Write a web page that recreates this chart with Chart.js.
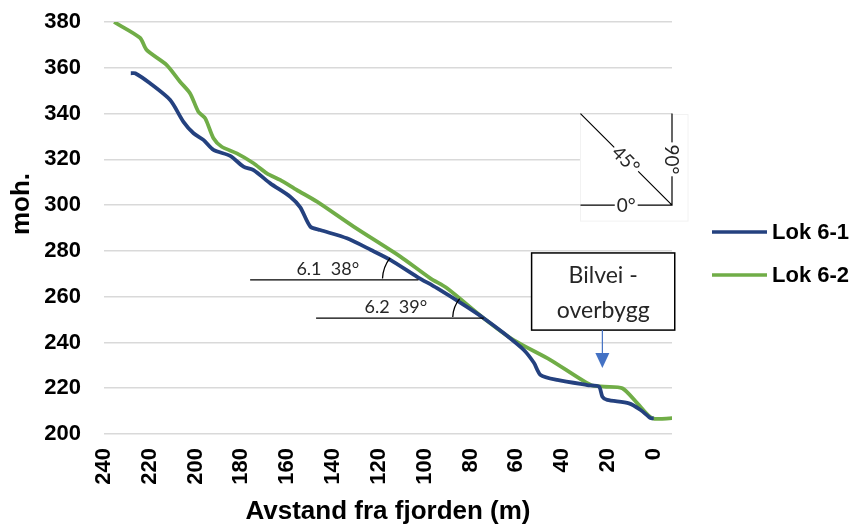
<!DOCTYPE html>
<html>
<head>
<meta charset="utf-8">
<script src="https://cdn.jsdelivr.net/npm/chart.js@4.4.1/dist/chart.umd.min.js"></script>
<style>
  html, body { margin: 0; padding: 0; background: #fff; }
</style>
</head>
<body>
<canvas id="profile" width="856" height="527"></canvas>
<script>
// Lok 6-1 (avstand fra fjorden, moh.)
const lok61X = [228.3, 226.4, 219.9, 211.1, 205.3, 200.9, 196.6, 192.2, 184.9, 179.1, 174.7, 167.4,
  158.7, 154.3, 149.9, 145.6, 133.9, 123.4, 114.8, 103.3, 94.6, 82.9, 74.2, 65.4, 56.7, 52.3, 49.4,
  42.1, 29.0, 23.9, 22.4, 20.3, 10.8, 5.7, 1.3, 0];
const lok61Y = [357.6, 357.6, 353.2, 345.9, 336.4, 331.4, 328.5, 324.1, 321.5, 316.8, 315.3, 309.5,
  303.7, 299.0, 290.6, 289.1, 285.5, 280.4, 276.0, 268.7, 263.7, 256.4, 250.6, 244.0, 236.7, 231.1, 225.8,
  223.6, 221.4, 220.7, 216.3, 214.9, 213.4, 210.5, 206.9, 206.9];

// Lok 6-2
const lok62X = [235.6, 224.3, 221.4, 212.6, 206.8, 202.4, 198.8, 195.8, 192.2, 188.6, 182.0, 174.7,
  168.9, 163.1, 155.8, 147.0, 131.0, 110.6, 97.5, 90.2, 74.2, 61.1, 45.0, 27.5, 21.7, 13.7, 7.1, 0.6, -8];
const lok62Y = [380.0, 373.1, 367.8, 361.2, 353.9, 348.8, 340.8, 337.9, 329.2, 325.5, 322.6, 318.3,
  313.9, 311.0, 306.6, 301.5, 290.6, 277.5, 268.0, 263.7, 250.6, 241.0, 232.3, 221.4, 220.7, 220.0, 213.4, 206.9, 206.9];

const seriesNames = ['Lok 6-1', 'Lok 6-2'];
const seriesColors = ['#24417f', '#70ad47'];

// helningslinjer
const slopeText = ['6.1  38°', '6.2  39°'];
const slopeY = [267.3, 250.6];
const slopeFrom = [176.2, 147.4];
const slopeTo = [102.7, 74.2];
const slopeDeg = [38, 39];

const toPoints = (xs, ys) => xs.map((x, i) => ({ x: x, y: ys[i] }));

const overlay = {
  id: 'overlay',
  afterDraw(chart) {
    const ctx = chart.ctx;
    const sx = chart.scales.x;
    const sy = chart.scales.y;
    const area = chart.chartArea;
    ctx.save();

    // slope reference lines with angle arcs
    const textX = [142.3, 112.6];
    const arcR = [36, 31];
    ctx.strokeStyle = '#000';
    ctx.fillStyle = '#262626';
    ctx.lineWidth = 1.3;
    ctx.font = '18px Lato';
    ctx.textAlign = 'center';
    ctx.textBaseline = 'alphabetic';
    slopeText.forEach((t, i) => {
      const y = sy.getPixelForValue(slopeY[i]);
      const x1 = sx.getPixelForValue(slopeFrom[i]);
      const x2 = sx.getPixelForValue(slopeTo[i]);
      ctx.beginPath();
      ctx.moveTo(x1, y);
      ctx.lineTo(x2, y);
      ctx.stroke();
      ctx.beginPath();
      ctx.arc(x2, y, arcR[i], Math.PI + 0.04, Math.PI + slopeDeg[i] * Math.PI / 180);
      ctx.stroke();
      ctx.fillText(t, sx.getPixelForValue(textX[i]), y - 5);
    });

    // angle key in the upper right
    const cx = sx.getPixelForValue(-8);
    const cy = sy.getPixelForValue(300);
    const len = cy - sy.getPixelForValue(340);
    ctx.fillStyle = '#fff';
    ctx.fillRect(cx - len, cy - len + 1, len + 16, len + 15);
    ctx.strokeStyle = '#f2f2f2';
    ctx.lineWidth = 1;
    ctx.strokeRect(cx - len, cy - len + 1, len + 16, len + 15);
    ctx.strokeStyle = '#000';
    ctx.lineWidth = 1.2;
    ctx.beginPath();
    ctx.moveTo(cx - len, cy - len);
    ctx.lineTo(cx, cy);
    ctx.moveTo(cx, cy - len);
    ctx.lineTo(cx, cy);
    ctx.lineTo(cx - len, cy);
    ctx.stroke();
    const keyLabel = (t, x, y, rot) => {
      ctx.save();
      ctx.translate(x, y);
      ctx.rotate(rot);
      ctx.font = '19px Lato';
      const w = ctx.measureText(t).width;
      ctx.fillStyle = '#fff';
      ctx.fillRect(-w / 2 - 2, -9, w + 4, 18);
      ctx.fillStyle = '#262626';
      ctx.textAlign = 'center';
      ctx.textBaseline = 'middle';
      ctx.fillText(t, 0, 1);
      ctx.restore();
    };
    keyLabel('0°', cx - len / 2, cy, 0);
    keyLabel('45°', cx - len / 2, cy - len / 2, Math.PI / 4);
    keyLabel('90°', cx, cy - len / 2, Math.PI / 2);

    // Bilvei - overbygg
    const bx1 = sx.getPixelForValue(53.3);
    const bx2 = sx.getPixelForValue(-9.2);
    const by1 = sy.getPixelForValue(279.1);
    const by2 = sy.getPixelForValue(245.4);
    ctx.fillStyle = '#fff';
    ctx.fillRect(bx1, by1, bx2 - bx1, by2 - by1);
    ctx.strokeStyle = '#000';
    ctx.lineWidth = 1.5;
    ctx.strokeRect(bx1, by1, bx2 - bx1, by2 - by1);
    ctx.fillStyle = '#262626';
    ctx.font = '23px Lato';
    ctx.textAlign = 'center';
    ctx.textBaseline = 'alphabetic';
    ctx.fillText('Bilvei -', (bx1 + bx2) / 2, by1 + 30);
    ctx.fillText('overbygg', (bx1 + bx2) / 2, by1 + 65);

    const ax = sx.getPixelForValue(22.4);
    const tip = sy.getPixelForValue(228.8);
    ctx.strokeStyle = '#4472c4';
    ctx.fillStyle = '#4472c4';
    ctx.lineWidth = 1.2;
    ctx.beginPath();
    ctx.moveTo(ax, by2);
    ctx.lineTo(ax, tip - 12);
    ctx.stroke();
    ctx.beginPath();
    ctx.moveTo(ax - 7, tip - 15);
    ctx.lineTo(ax + 7, tip - 15);
    ctx.lineTo(ax, tip);
    ctx.closePath();
    ctx.fill();

    // legend
    ctx.font = 'bold 22px "Liberation Sans"';
    ctx.textAlign = 'left';
    ctx.textBaseline = 'middle';
    seriesNames.forEach((n, i) => {
      const ly = area.top + 210 + i * 43;
      ctx.strokeStyle = seriesColors[i];
      ctx.lineWidth = 3.5;
      ctx.beginPath();
      ctx.moveTo(area.right + 40, ly);
      ctx.lineTo(area.right + 95, ly);
      ctx.stroke();
      ctx.fillStyle = '#000';
      ctx.fillText(n, area.right + 100, ly + 1);
    });

    // y axis title
    ctx.save();
    ctx.translate(22, 204);
    ctx.rotate(-Math.PI / 2);
    ctx.font = 'bold 26px "Liberation Sans"';
    ctx.textAlign = 'center';
    ctx.textBaseline = 'middle';
    ctx.fillStyle = '#000';
    ctx.fillText('moh.', 0, 0);
    ctx.restore();

    ctx.restore();
  }
};

new Chart(document.getElementById('profile'), {
  type: 'line',
  data: {
    datasets: [{
      label: seriesNames[0],
      data: toPoints(lok61X, lok61Y),
      borderColor: seriesColors[0],
      borderWidth: 3.8,
      pointRadius: 0,
      tension: 0.25
    }, {
      label: seriesNames[1],
      data: toPoints(lok62X, lok62Y),
      borderColor: seriesColors[1],
      borderWidth: 3.8,
      pointRadius: 0,
      tension: 0.25
    }]
  },
  options: {
    responsive: false,
    animation: false,
    layout: {
      padding: { left: 0, right: 184, top: 22, bottom: 0 }
    },
    plugins: {
      legend: { display: false },
      tooltip: { enabled: false }
    },
    scales: {
      x: {
        type: 'linear',
        reverse: true,
        min: -8,
        max: 240,
        grid: { display: false },
        border: { display: false },
        ticks: {
          stepSize: 20,
          includeBounds: false,
          minRotation: 90,
          maxRotation: 90,
          padding: 6,
          color: '#000',
          font: { family: 'Liberation Sans', size: 22, weight: 'bold' }
        },
        title: {
          display: true,
          text: 'Avstand fra fjorden (m)',
          color: '#000',
          padding: 0,
          font: { family: 'Liberation Sans', size: 26, weight: 'bold' }
        },
        afterFit(scale) { scale.height = 93; }
      },
      y: {
        min: 200,
        max: 380,
        grid: { color: '#d9d9d9', lineWidth: 1.5, drawTicks: false },
        border: { display: false },
        ticks: {
          stepSize: 20,
          padding: 23,
          color: '#000',
          font: { family: 'Liberation Sans', size: 22, weight: 'bold' }
        },
        afterFit(scale) {
          scale.width = 104;
          scale.paddingTop = 0;
          scale.paddingBottom = 0;
        }
      }
    }
  },
  plugins: [overlay]
});
</script>
</body>
</html>
